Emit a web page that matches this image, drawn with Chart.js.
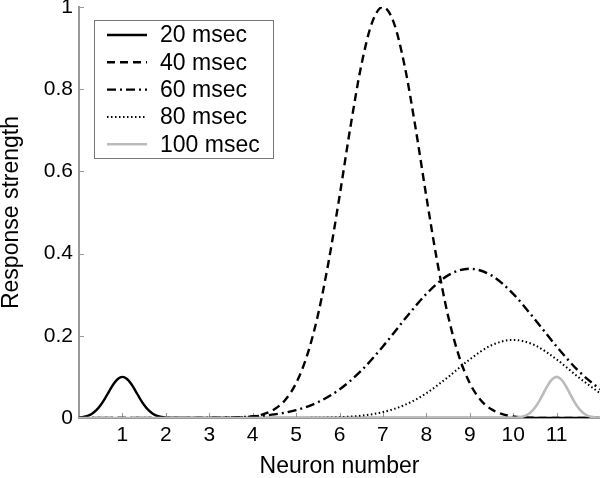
<!DOCTYPE html>
<html><head><meta charset="utf-8">
<script src="https://cdn.jsdelivr.net/npm/chart.js@4.4.1/dist/chart.umd.min.js"></script>
<style>html,body{margin:0;padding:0;background:#fff;}#wrap{width:600px;height:478px;}</style>
</head><body><div id="wrap"><canvas id="c" width="600" height="478"></canvas></div>
<script>
// ---- data ----
const seriesNames = ['20 msec', '40 msec', '60 msec', '80 msec', '100 msec'];

const x20 = [0,0.1,0.2,0.3,0.4,0.5,0.6,0.7,0.8,0.9,1,1.1,1.2,1.3,1.4,1.5,1.6,1.7,1.8,1.9,2,2.1,2.2,12];
const y20 = [0.001,0.0024,0.0053,0.0105,0.0192,0.0317,0.048,0.0662,0.0832,0.0955,0.1,0.0955,0.0832,0.0662,0.048,0.0317,0.0192,0.0105,0.0053,0.0024,0.001,0.0004,0.0001,0];

const x40 = [0,3,3.25,3.5,3.75,4,4.25,4.5,4.75,5,5.25,5.5,5.75,6,6.25,6.5,6.75,7,7.25,7.5,7.75,8,8.25,8.5,8.75,9,9.25,9.5,9.75,10,10.25,10.5,10.75,11,12];
const y40 = [0,0.0001,0.0002,0.0005,0.0015,0.0039,0.0094,0.0211,0.0439,0.0847,0.151,0.249,0.381,0.539,0.707,0.857,0.962,1,0.962,0.857,0.707,0.539,0.381,0.249,0.151,0.0847,0.0439,0.0211,0.0094,0.0039,0.0015,0.0005,0.0002,0.0001,0];

const x60 = [0,2.5,3,3.5,4,4.5,5,5.5,6,6.5,7,7.5,8,8.5,9,9.5,10,10.5,11,11.5,12];
const y60 = [0,0.0002,0.0005,0.0014,0.0037,0.0088,0.0192,0.0383,0.0695,0.115,0.174,0.24,0.302,0.347,0.363,0.347,0.302,0.24,0.174,0.115,0.0695];

const x80 = [0,5,5.5,6,6.5,7,7.5,8,8.5,9,9.5,10,10.5,11,11.5,12];
const y80 = [0,0.0001,0.0006,0.0019,0.0056,0.0144,0.0316,0.0603,0.0996,0.1426,0.177,0.19,0.177,0.1426,0.0996,0.0603];

const x100 = [0,9.9,10,10.1,10.2,10.3,10.4,10.5,10.6,10.7,10.8,10.9,11,11.1,11.2,11.3,11.4,11.5,11.6,11.7,11.8,11.9,12];
const y100 = [0,0.0001,0.0004,0.0011,0.0029,0.0066,0.0135,0.0249,0.0411,0.0607,0.0801,0.0946,0.1,0.0946,0.0801,0.0607,0.0411,0.0249,0.0135,0.0066,0.0029,0.0011,0.0004];

const xTickValues = [1,2,3,4,5,6,7,8,9,10,11];
const xTickLabels = ['1','2','3','4','5','6','7','8','9','10','11'];
const yTickValues = [0,0.2,0.4,0.6,0.8,1];
const yTickLabels = ['0','0.2','0.4','0.6','0.8','1'];
const xTitle = 'Neuron number';
const yTitle = 'Response strength';

// ---- styling ----
const FONT = "'Liberation Sans', Arial, Helvetica, sans-serif";
const AXIS = '#999999';
const GRAY = '#bbbbbb';

function pts(xs, ys) { return xs.map((x, i) => ({x: x, y: ys[i]})); }

const styles = [
  {color: '#000', dash: [], width: 2.4},
  {color: '#000', dash: [8, 5], width: 2.4},
  {color: '#000', dash: [9, 4, 2, 4], width: 2.4},
  {color: '#000', dash: [1.5, 2.5], width: 2},
  {color: GRAY, dash: [], width: 2.6}
];
const allX = [x20, x40, x60, x80, x100];
const allY = [y20, y40, y60, y80, y100];

const datasets = seriesNames.map((name, i) => ({
  label: name,
  data: pts(allX[i], allY[i]),
  borderColor: styles[i].color,
  borderDash: styles[i].dash,
  borderWidth: styles[i].width,
  pointRadius: 0,
  fill: false,
  cubicInterpolationMode: 'monotone',
  order: 5 - i
}));

const overlay = {
  id: 'overlay',
  beforeDatasetsDraw(chart) {
    const ctx = chart.ctx, xs = chart.scales.x, ys = chart.scales.y;
    ctx.save();
    ctx.strokeStyle = AXIS; ctx.lineWidth = 1;
    xTickValues.forEach(v => {
      const px = Math.round(xs.getPixelForValue(v)) + 0.5;
      ctx.beginPath(); ctx.moveTo(px, ys.bottom); ctx.lineTo(px, ys.bottom - 5); ctx.stroke();
    });
    yTickValues.forEach(v => {
      if (v === 0) return;
      const py = Math.round(ys.getPixelForValue(v)) + 0.5;
      ctx.beginPath(); ctx.moveTo(xs.left, py); ctx.lineTo(xs.left + 5, py); ctx.stroke();
    });
    ctx.restore();
  },
  afterDraw(chart) {
    const ctx = chart.ctx;
    const bx = 94.5, by = 20.5, bw = 179, bh = 138;
    ctx.save();
    ctx.fillStyle = '#fff';
    ctx.fillRect(bx, by, bw, bh);
    ctx.strokeStyle = '#777'; ctx.lineWidth = 1;
    ctx.strokeRect(bx, by, bw, bh);
    ctx.font = '23px ' + FONT;
    ctx.textBaseline = 'middle';
    ctx.textAlign = 'left';
    chart.data.datasets.forEach((ds, i) => {
      const y = 35 + i * 27.3;
      ctx.strokeStyle = ds.borderColor;
      ctx.lineWidth = ds.borderWidth;
      ctx.setLineDash(ds.borderDash);
      ctx.beginPath(); ctx.moveTo(107, y); ctx.lineTo(147, y); ctx.stroke();
      ctx.setLineDash([]);
      ctx.fillStyle = '#000';
      ctx.fillText(ds.label, 160, y + 1);
    });
    ctx.restore();
  }
};

new Chart(document.getElementById('c'), {
  type: 'line',
  data: {datasets: datasets},
  options: {
    responsive: false,
    animation: false,
    devicePixelRatio: 1,
    layout: {padding: {top: 7, right: 0, left: 0, bottom: 0}},
    plugins: {legend: {display: false}, tooltip: {enabled: false}},
    scales: {
      x: {
        type: 'linear', min: 0, max: 12,
        grid: {display: false, drawTicks: false},
        border: {display: true, color: AXIS, width: 2},
        afterBuildTicks: s => { s.ticks = xTickValues.map(v => ({value: v})); },
        ticks: {
          autoSkip: false, maxRotation: 0, padding: 5, color: '#000',
          font: {family: FONT, size: 21},
          callback: (v) => { const k = xTickValues.indexOf(v); return k >= 0 ? xTickLabels[k] : ''; }
        },
        title: {display: true, text: xTitle, color: '#000', font: {family: FONT, size: 23, lineHeight: 1}, padding: {top: 0, bottom: 0}},
        afterFit: s => { s.height = 60; s.paddingLeft = 0; s.paddingRight = 0; }
      },
      y: {
        type: 'linear', min: 0, max: 1,
        grid: {display: false, drawTicks: false},
        border: {display: true, color: AXIS, width: 2},
        afterBuildTicks: s => { s.ticks = yTickValues.map(v => ({value: v})); },
        ticks: {
          autoSkip: false, padding: 6, color: '#000',
          font: {family: FONT, size: 21},
          callback: (v) => { const k = yTickValues.indexOf(v); return k >= 0 ? yTickLabels[k] : ''; }
        },
        title: {display: true, text: yTitle, color: '#000', font: {family: FONT, size: 23, lineHeight: 1}, padding: {top: 0, bottom: 0}},
        afterFit: s => { s.width = 79; s.paddingTop = 0; s.paddingBottom = 0; }
      }
    }
  },
  plugins: [overlay]
});
</script>
</body></html>
